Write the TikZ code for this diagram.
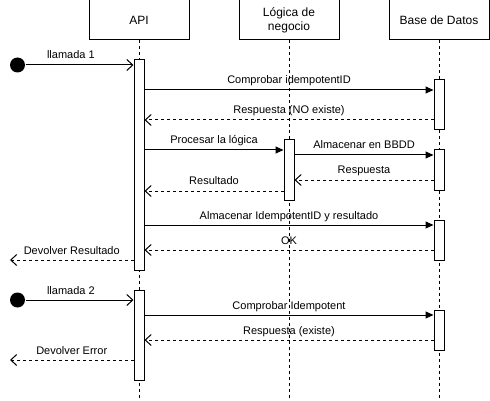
\documentclass[tikz,border=0pt]{standalone}
\usepackage{fontspec}
\setmainfont{Liberation Sans}
\usetikzlibrary{arrows.meta}
\begin{document}
\begin{tikzpicture}[x=1pt,y=-1pt,line width=1pt,
  head/.style={draw,fill=white,minimum width=100pt,minimum height=40pt,inner sep=0pt,font=\fontsize{12}{14}\selectfont,align=center},
  life/.style={dash pattern=on 3pt off 3pt},
  act/.style={draw,fill=white,minimum width=10pt,inner sep=0pt},
  sync/.style={-{Triangle[length=8pt,width=7pt]}},
  ret/.style={dash pattern=on 3pt off 3pt,-{Straight Barb[length=6pt,width=11pt,line width=1pt]}},
  call/.style={-{Straight Barb[length=6pt,width=11pt,line width=1pt]}},
  lbl/.style={font=\fontsize{11}{13}\selectfont,inner sep=2pt,text depth=2.5pt,text height=8pt},
  dot/.style={circle,fill=black,minimum size=15pt,inner sep=0pt}]
\useasboundingbox (0,0) rectangle (490,401);
% headers
\node[head] (api) at (139,20) {API};
\node[head] (log) at (289,20) {Lógica de\\negocio};
\node[head] (db) at (439,20) {Base de Datos};
\coordinate (apiend) at (139,400);
\coordinate (logend) at (289,400);
\coordinate (dbend) at (439,400);
\draw[life] (api.south) -- (apiend);
\draw[life] (log.south) -- (logend);
\draw[life] (db.south) -- (dbend);
% activations
\node[act,minimum height=210pt] (a1) at (139,165) {};
\node[act,minimum height=90pt] (a2) at (139,335) {};
\node[act,minimum height=60pt] (l1) at (289,170) {};
\node[act,minimum height=50pt] (d1) at (439,105) {};
\node[act,minimum height=40pt] (d2) at (439,170) {};
\node[act,minimum height=40pt] (d3) at (439,240) {};
\node[act,minimum height=40pt] (d4) at (439,330) {};
% start dots
\node[dot] (s1) at (17.5,65) {};
\node[dot] (s2) at (17.5,300) {};
\coordinate (out1) at (10,260);
\coordinate (out2) at (10,360);
% messages
\draw[call] (s1) -- (a1.west |- s1) node[lbl,pos=0.42,above=1pt] {llamada 1};
\draw[sync] (a1.east |- 0,90) -- (d1.west |- 0,90) node[lbl,midway,above=1pt] {Comprobar idempotentID};
\draw[ret] (d1.west |- 0,120) -- (a1.east |- 0,120) node[lbl,midway,above=1pt] {Respuesta (NO existe)};
\draw[sync] (a1.east |- 0,150) -- (l1.west |- 0,150) node[lbl,midway,above=1pt] {Procesar la lógica};
\draw[sync] (l1.east |- 0,155) -- (d2.west |- 0,155) node[lbl,midway,above=1pt] {Almacenar en BBDD};
\draw[ret] (d2.west |- 0,180) -- (l1.east |- 0,180) node[lbl,midway,above=1pt] {Respuesta};
\draw[ret] (l1.west |- 0,191) -- (a1.east |- 0,191) node[lbl,midway,above=1pt] {Resultado};
\draw[sync] (a1.east |- 0,225) -- (d3.west |- 0,225) node[lbl,midway,above=1pt] {Almacenar IdempotentID y resultado};
\draw[ret] (d3.west |- 0,250) -- (a1.east |- 0,250) node[lbl,midway,above=1pt] {OK};
\draw[ret] (a1.west |- out1) -- (out1) node[lbl,midway,above=1pt] {Devolver Resultado};
\draw[call] (s2) -- (a2.west |- s2) node[lbl,pos=0.42,above=1pt] {llamada 2};
\draw[sync] (a2.east |- 0,315) -- (d4.west |- 0,315) node[lbl,midway,above=1pt] {Comprobar Idempotent};
\draw[ret] (d4.west |- 0,340) -- (a2.east |- 0,340) node[lbl,midway,above=1pt] {Respuesta (existe)};
\draw[ret] (a2.west |- out2) -- (out2) node[lbl,midway,above=1pt] {Devolver Error};
\end{tikzpicture}
\end{document}
